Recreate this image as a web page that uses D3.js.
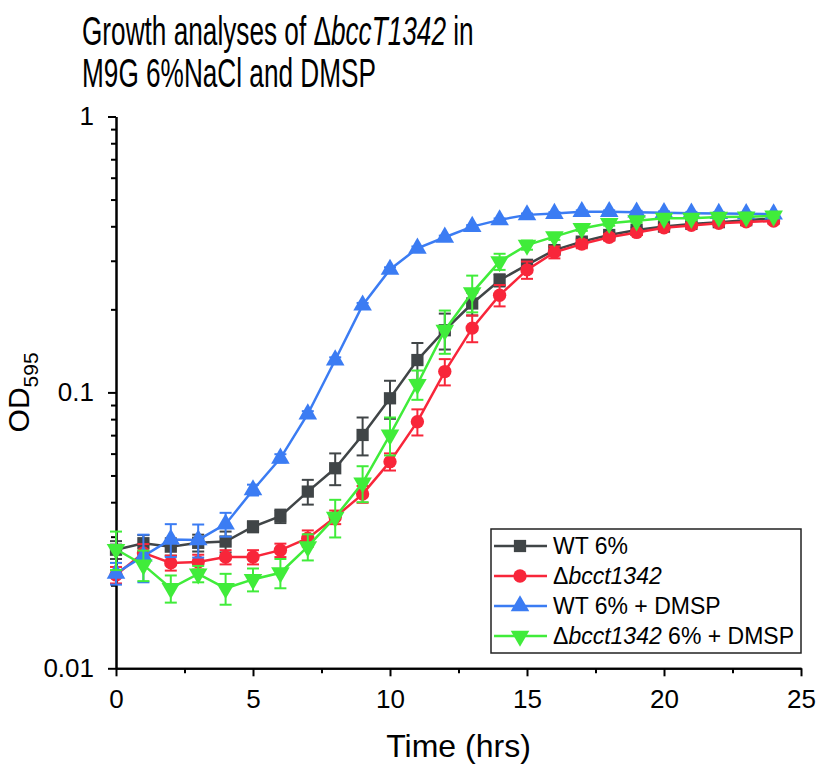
<!DOCTYPE html>
<html><head><meta charset="utf-8">
<script src="https://cdn.jsdelivr.net/npm/d3@7"></script>
<style>body{margin:0;background:#fff;} svg{display:block;} text{font-family:"Liberation Sans",Arial,sans-serif;fill:#000;}</style>
</head><body>
<svg id="chart" width="816" height="765"></svg>
<script>
const time = [0,1,2,3,4,5,6,7,8,9,10,11,12,13,14,15,16,17,18,19,20,21,22,23,24];
const seriesNames = ["WT 6%", "Δbcct1342", "WT 6% + DMSP", "Δbcct1342 6% + DMSP"];
const wt6 = [0.0269,0.0284,0.0276,0.0285,0.0288,0.0326,0.0356,0.0437,0.0531,0.0701,0.0952,0.131,0.168,0.210,0.255,0.290,0.328,0.352,0.372,0.388,0.399,0.408,0.414,0.421,0.427];
const wt6Err = [0.002,0.002,0.002,0.002,0.0025,0.0015,0.002,0.0045,0.007,0.011,0.015,0.02,0.025,0.02,0.013,0.012,0.01,0.009,0.008,0.008,0.007,0.007,0.007,0.007,0.007];
const mut = [0.0218,0.0262,0.0241,0.0243,0.0253,0.0253,0.0268,0.0296,0.0353,0.0428,0.0561,0.0783,0.119,0.171,0.225,0.278,0.322,0.345,0.365,0.380,0.395,0.403,0.410,0.415,0.418];
const mutErr = [0.0015,0.002,0.0015,0.0015,0.0015,0.0015,0.0015,0.002,0.002,0.003,0.004,0.0085,0.013,0.019,0.02,0.02,0.016,0.012,0.01,0.008,0.007,0.007,0.007,0.007,0.007];
const wtDmsp = [0.0221,0.0255,0.0293,0.0292,0.0333,0.0443,0.0577,0.0835,0.131,0.207,0.279,0.333,0.365,0.399,0.422,0.440,0.445,0.452,0.452,0.450,0.448,0.446,0.445,0.444,0.443];
const wtDmspErr = [0.002,0.005,0.004,0.004,0.0033,0.002,0.002,0.002,0.003,0.004,0.005,0.005,0.005,0.005,0.005,0.005,0.005,0.005,0.005,0.005,0.005,0.005,0.005,0.005,0.005];
const mutDmsp = [0.0270,0.0237,0.0195,0.0220,0.0195,0.0210,0.0222,0.0276,0.0353,0.047,0.0701,0.107,0.168,0.230,0.298,0.342,0.367,0.393,0.410,0.419,0.428,0.428,0.432,0.433,0.436];
const mutDmspErr = [0.0043,0.003,0.0022,0.0015,0.0025,0.002,0.0027,0.003,0.0055,0.007,0.011,0.013,0.03,0.035,0.02,0.013,0.01,0.008,0.008,0.007,0.007,0.007,0.007,0.007,0.007];
const xTicks = [0,5,10,15,20,25];
const xMinorTicks = [2.5,7.5,12.5,17.5,22.5];
const yTicks = [0.01,0.1,1];
const yTickLabels = ["0.01","0.1","1"];
const yMinorTicks = [0.02,0.03,0.04,0.05,0.06,0.07,0.08,0.09,0.2,0.3,0.4,0.5,0.6,0.7,0.8,0.9];

const colors = ["#404547","#f8263a","#3b7cf3","#40ec3a"];
const symbols = [d3.symbolSquare, d3.symbolCircle, d3.symbolTriangle, d3.symbolTriangle];
const symSizes = [150, 140, 150, 150];
const rotations = [0,0,0,180];
const values = [wt6, mut, wtDmsp, mutDmsp];
const errors = [wt6Err, mutErr, wtDmspErr, mutDmspErr];

const svg = d3.select("#chart");
const x = d3.scaleLinear().domain([0,25]).range([116,801]);
const y = d3.scaleLog().domain([0.01,1]).range([668.3,116.5]);

// title
const title = svg.append("g").attr("transform","translate(82,0) scale(0.655,1)");
const t1 = title.append("text").attr("x",0).attr("y",45).style("font-size","40px");
t1.append("tspan").text("Growth analyses of Δ");
t1.append("tspan").style("font-style","italic").text("bccT1342");
t1.append("tspan").text(" in");
title.append("text").attr("x",0).attr("y",87).style("font-size","40px").text("M9G 6%NaCl and DMSP");

// axes
const xAxis = svg.append("g").attr("transform",`translate(0,${y(0.01)})`)
  .call(d3.axisBottom(x).tickValues(xTicks).tickSize(8).tickSizeOuter(0).tickFormat(d3.format("d")));
svg.append("g").attr("transform",`translate(0,${y(0.01)})`)
  .call(d3.axisBottom(x).tickValues(xMinorTicks).tickSize(5).tickSizeOuter(0).tickFormat(""));
const yAxis = svg.append("g").attr("transform",`translate(${x(0)},0)`)
  .call(d3.axisLeft(y).tickValues(yTicks).tickSize(8).tickSizeOuter(0).tickFormat((d,i)=>yTickLabels[i]));
svg.append("g").attr("transform",`translate(${x(0)},0)`)
  .call(d3.axisLeft(y).tickValues(yMinorTicks).tickSize(5).tickSizeOuter(0).tickFormat(""));
svg.selectAll(".domain").attr("stroke","#000").attr("stroke-width",2);
svg.selectAll(".tick line").attr("stroke","#000").attr("stroke-width",2);
svg.selectAll(".tick text").style("font-size","26px").style("font-family","Liberation Sans, Arial, sans-serif");
xAxis.selectAll(".tick text").attr("y",11).attr("dy",29);
yAxis.selectAll(".tick text").attr("x",-22);

// axis titles
svg.append("text").attr("x",(x(0)+x(25))/2).attr("y",757).attr("text-anchor","middle").style("font-size","32px").text("Time (hrs)");
const yl = svg.append("text").attr("transform",`translate(29,${(y(0.01)+y(1))/2}) rotate(-90)`).attr("text-anchor","middle").style("font-size","30px");
yl.append("tspan").text("OD");
yl.append("tspan").attr("dy",9).style("font-size","21px").text("595");

// series
const line = d3.line().x((d,i)=>x(time[i])).y(d=>y(d));
values.forEach((vals,s)=>{
  const g = svg.append("g");
  g.append("path").datum(vals).attr("d",line).attr("fill","none").attr("stroke",colors[s]).attr("stroke-width",2.5);
  const eb = g.selectAll(".eb").data(vals).enter().append("g");
  eb.append("line").attr("x1",(d,i)=>x(time[i])).attr("x2",(d,i)=>x(time[i]))
    .attr("y1",(d,i)=>y(d+errors[s][i])).attr("y2",(d,i)=>y(Math.max(d-errors[s][i],0.0101)))
    .attr("stroke",colors[s]).attr("stroke-width",2);
  [1,-1].forEach(sg=>{
    eb.append("line").attr("x1",(d,i)=>x(time[i])-6).attr("x2",(d,i)=>x(time[i])+6)
      .attr("y1",(d,i)=>y(d+sg*errors[s][i])).attr("y2",(d,i)=>y(d+sg*errors[s][i]))
      .attr("stroke",colors[s]).attr("stroke-width",2);
  });
  g.selectAll(".pt").data(vals).enter().append("path")
    .attr("d",d3.symbol().type(symbols[s]).size(symSizes[s]))
    .attr("transform",(d,i)=>`translate(${x(time[i])},${y(d)}) rotate(${rotations[s]})`)
    .attr("fill",colors[s]);
});

// legend
const lg = svg.append("g");
lg.append("rect").attr("x",491).attr("y",529).attr("width",310).attr("height",124).attr("fill","#fff").attr("stroke","#222").attr("stroke-width",1.5);
const rowY = d3.scaleBand().domain(d3.range(4)).range([531,651]);
seriesNames.forEach((nm,s)=>{
  const cy = rowY(s)+rowY.bandwidth()/2;
  lg.append("line").attr("x1",494).attr("x2",547).attr("y1",cy).attr("y2",cy).attr("stroke",colors[s]).attr("stroke-width",2.5);
  lg.append("path").attr("d",d3.symbol().type(symbols[s]).size(symSizes[s])).attr("transform",`translate(520,${cy}) rotate(${rotations[s]})`).attr("fill",colors[s]);
  const tx = lg.append("text").attr("x",553).attr("y",cy).attr("dy","0.36em").style("font-size","23px");
  if (nm.startsWith("Δ")) {
    tx.append("tspan").text("Δ");
    tx.append("tspan").style("font-style","italic").text("bcct1342");
    tx.append("tspan").text(nm.slice(9));
  } else tx.text(nm);
});
</script>
</body></html>
